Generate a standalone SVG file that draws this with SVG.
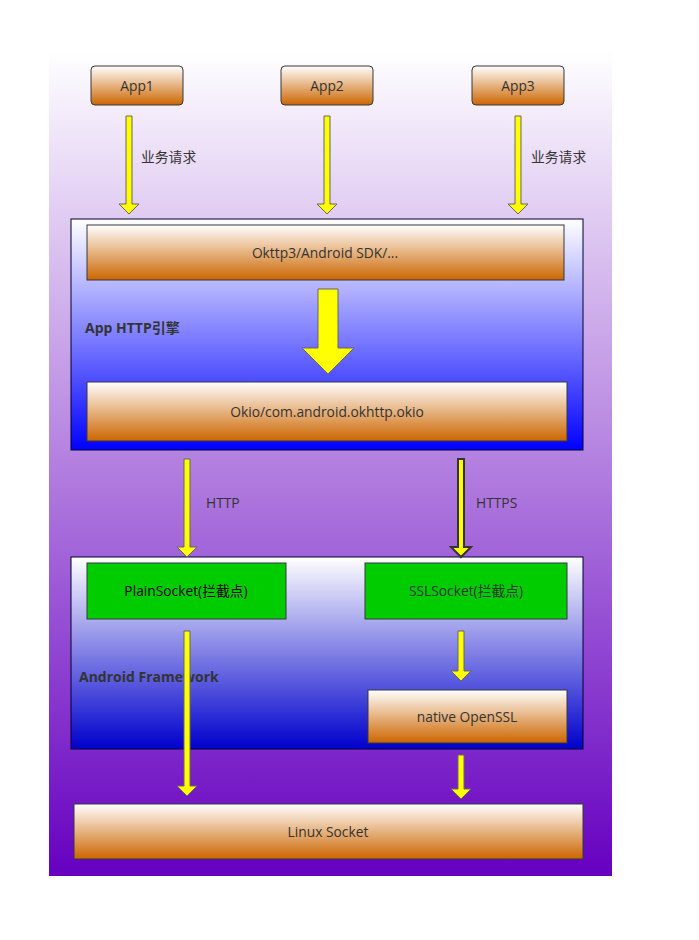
<svg xmlns="http://www.w3.org/2000/svg" width="699" height="940" viewBox="0 0 699 940">
<defs>
<linearGradient id="bg" x1="0" y1="0" x2="0" y2="1"><stop offset="0" stop-color="#ffffff"/><stop offset="1" stop-color="#6600c0"/></linearGradient>
<linearGradient id="or" x1="0" y1="0" x2="0" y2="1"><stop offset="0" stop-color="#ffffff"/><stop offset="1" stop-color="#cc6600"/></linearGradient>
<linearGradient id="bl1" x1="0" y1="0" x2="0" y2="1"><stop offset="0" stop-color="#ffffff"/><stop offset="1" stop-color="#0000ff"/></linearGradient>
<linearGradient id="bl2" x1="0" y1="0" x2="0" y2="1"><stop offset="0" stop-color="#ffffff"/><stop offset="1" stop-color="#0000cc"/></linearGradient>
</defs>
<style>
text{font-family:"Open Sans","Noto Sans CJK SC",sans-serif;font-size:13.8px;fill:#333333}
.c{text-anchor:middle}
.b{font-weight:bold;font-size:14px}
.box{fill:url(#or);stroke:#36393d;stroke-width:1}
.grn{fill:#00cc00;stroke:#36393d;stroke-width:1}
.arr{fill:#ffff00;stroke:#666666;stroke-width:1}
.arr2{fill:#ffff00;stroke:#333333;stroke-width:2}
</style>
<rect x="49" y="50" width="563" height="826" fill="url(#bg)"/>
<g id="container-http"><rect x="71" y="219" width="512" height="231" fill="url(#bl1)" stroke="#000033"/><text x="85" y="333" class="b">App HTTP引擎</text></g>
<g id="container-fw"><rect x="71" y="557" width="512" height="192" fill="url(#bl2)" stroke="#000033"/><text x="79" y="682" class="b">Android Framework</text></g>
<g id="app1"><rect x="91" y="66" width="92" height="39" rx="4" class="box"/><text x="137" y="91" class="c">App1</text></g>
<g id="app2"><rect x="281" y="66" width="92" height="39" rx="4" class="box"/><text x="327" y="91" class="c">App2</text></g>
<g id="app3"><rect x="472" y="66" width="92" height="39" rx="4" class="box"/><text x="518" y="91" class="c">App3</text></g>
<g id="okhttp"><rect x="87" y="225" width="477" height="55" class="box"/><text x="325" y="258" class="c">Okttp3/Android SDK/...</text></g>
<g id="okio"><rect x="87" y="382" width="480" height="59" class="box"/><text x="327" y="417" class="c">Okio/com.android.okhttp.okio</text></g>
<g id="plainsocket"><rect x="87" y="563" width="199" height="56" class="grn"/><text x="186" y="596" class="c" style="fill:#1a0000">PlainSocket(拦截点)</text></g>
<g id="sslsocket"><rect x="365" y="563" width="202" height="56" class="grn"/><text x="466" y="596" class="c">SSLSocket(拦截点)</text></g>
<g id="openssl"><rect x="368" y="690" width="199" height="53" class="box"/><text x="467" y="722" class="c">native OpenSSL</text></g>
<g id="linux"><rect x="74" y="804" width="509" height="55" class="box"/><text x="328" y="837" class="c">Linux Socket</text></g>
<g id="connectors">
<path class="arr" d="M126,116H132V204H139L129,214L119,204H126Z"/>
<path class="arr" d="M324,116H330V204H337L327,214L317,204H324Z"/>
<path class="arr" d="M515,116H521V204H528L518,214L508,204H515Z"/>
<path class="arr" d="M318,289H338V348H354L328,374L302,348H318Z"/>
<path class="arr" d="M184,459H190V547H197L187,557L177,547H184Z"/>
<path class="arr2" d="M458,459H464V547H471L461,557L451,547H458Z"/>
<path class="arr" d="M184,631H190V786H197L187,796L177,786H184Z"/>
<path class="arr" d="M458,631H464V671H471L461,681L451,671H458Z"/>
<path class="arr" d="M458,755H464V789H471L461,799L451,789H458Z"/>
<text x="141" y="162">业务请求</text>
<text x="531" y="162">业务请求</text>
<text x="206" y="508">HTTP</text>
<text x="476" y="508">HTTPS</text>
</g>
</svg>
